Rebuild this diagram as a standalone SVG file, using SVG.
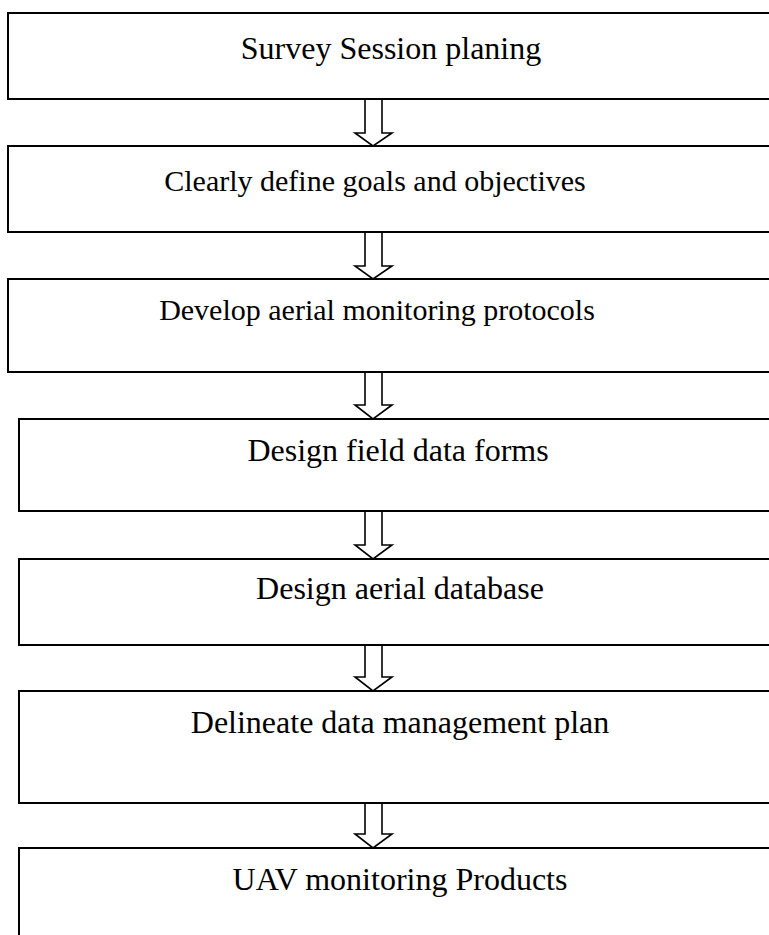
<svg xmlns="http://www.w3.org/2000/svg" width="769" height="935" viewBox="0 0 769 935">
<style>
.box{fill:#fff;stroke:#000;stroke-width:2}
.lbl{font-family:"Liberation Serif","Times New Roman",serif;font-size:32px;fill:#000;text-anchor:middle}
.sm{font-size:30px}
.arr{fill:#fff;stroke:#000;stroke-width:1.6;stroke-linejoin:miter}
</style>
<rect width="769" height="935" fill="#fff"/>
<g id="connectors">
<path class="arr" d="M365,99 V133 H355 L373,146 L392,133 H382 V99"/>
<path class="arr" d="M365,232 V266 H355 L373,279 L392,266 H382 V232"/>
<path class="arr" d="M365,372 V405 H355 L373,419 L392,405 H382 V372"/>
<path class="arr" d="M365,511 V545 H355 L373,559 L392,545 H382 V511"/>
<path class="arr" d="M365,645 V677 H355 L373,691 L392,677 H382 V645"/>
<path class="arr" d="M365,803 V834 H355 L373,848 L392,834 H382 V803"/>
</g>
<g id="n1"><rect class="box" x="8" y="13" width="780" height="86"/><text class="lbl" x="391" y="59">Survey Session planing</text></g>
<g id="n2"><rect class="box" x="8" y="146" width="780" height="86"/><text class="lbl sm" x="375" y="191">Clearly define goals and objectives</text></g>
<g id="n3"><rect class="box" x="8" y="279" width="780" height="93"/><text class="lbl sm" x="377" y="320">Develop aerial monitoring protocols</text></g>
<g id="n4"><rect class="box" x="19" y="419" width="770" height="92"/><text class="lbl" x="398" y="461">Design field data forms</text></g>
<g id="n5"><rect class="box" x="19" y="559" width="770" height="86"/><text class="lbl" x="400" y="599">Design aerial database</text></g>
<g id="n6"><rect class="box" x="19" y="691" width="770" height="112"/><text class="lbl" x="400" y="733">Delineate data management plan</text></g>
<g id="n7"><rect class="box" x="19" y="848" width="770" height="100"/><text class="lbl" x="400" y="890">UAV monitoring Products</text></g>
</svg>
